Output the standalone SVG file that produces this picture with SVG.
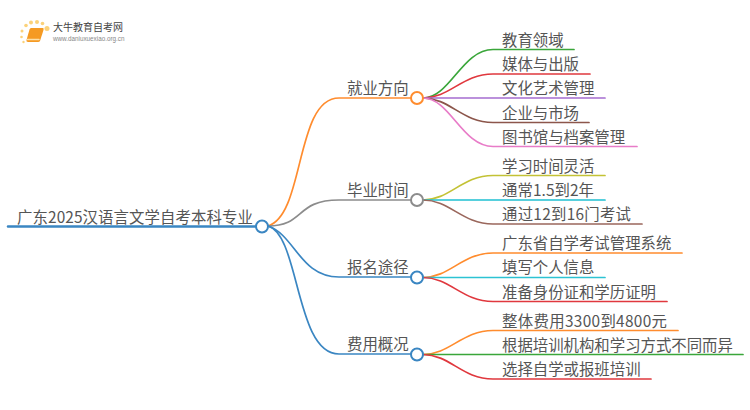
<svg xmlns="http://www.w3.org/2000/svg" width="750" height="410" viewBox="0 0 750 410">
<style>
text{font-family:"Noto Sans CJK SC","Liberation Sans",sans-serif;fill:#555;font-size:15.4px}
path{fill:none;stroke-width:1.7;stroke-linecap:round}
circle.n{fill:#fff;stroke-width:2}
.o{stroke:#ff8c2e}.g{stroke:#8c8c8c}.b{stroke:#3a86c2}
</style>
<rect width="750" height="410" fill="#fff"/>
<g id="logo">
<g fill="#fbd27a"><circle cx="47" cy="28.500" r="2.500"/><circle cx="42.500" cy="23.500" r="1.800"/><circle cx="37" cy="22" r="2"/><circle cx="31" cy="22.500" r="2"/><circle cx="26" cy="25.500" r="1.800"/><circle cx="22" cy="31" r="1.500"/><circle cx="21.500" cy="37" r="1.300"/><circle cx="23.500" cy="42" r="1.200"/></g>
<path d="M31 28H43Q44 28 43.500 30L40 41Q39.500 42 38 42H28Q26 42 26.500 40L29.500 29.500Q30 28 31 28Z" style="fill:#f59a23;stroke:none"/>
<path d="M27.500 39.500H39" stroke="#fde0a8" style="stroke-width:1.500"/>
<text x="53" y="30.500" style="font-size:10px;fill:#444">大牛教育自考网</text>
<text x="53" y="41" style="font-size:6.300px;fill:#888;font-family:'Liberation Sans',sans-serif">www.daniuxuexiao.org.cn</text>
</g>
<g id="connectors">
<path class="b" d="M8 226.500H256" style="stroke-width:2.500"/>
<path class="o" d="M268 226C305 215 295 98 339 98H411"/>
<path class="g" d="M268 226C305 226 295 200 339 200H411"/>
<path class="b" d="M268 226C295 235 300 277 339 277H411"/>
<path class="b" d="M268 226C300 235 295 354 339 354H411"/>
<path stroke="#3aa63a" d="M423 98C450 98 462 49.500 493 49.500H574"/>
<path stroke="#e0383e" d="M423 98C450 98 462 74 493 74H590"/>
<path stroke="#a56cd0" d="M423 98H605"/>
<path stroke="#8c564b" d="M423 98C450 98 462 122.500 493 122.500H589"/>
<path stroke="#e87cc8" d="M423 98C450 98 462 146.500 493 146.500H637"/>
<path stroke="#c3c235" d="M423 200C450 200 462 175.500 493 175.500H605"/>
<path stroke="#1fc0d2" d="M423 200H605"/>
<path stroke="#9a675c" d="M423 200C450 200 462 224 493 224H642"/>
<path class="o" d="M423 277.500C450 277.500 462 253 493 253H682"/>
<path stroke="#2cc3d3" d="M423 277.500H605"/>
<path stroke="#e0383e" d="M423 277.500C450 277.500 462 301.500 493 301.500H667"/>
<path class="o" d="M423 354.500C450 354.500 462 330.500 493 330.500H678"/>
<path stroke="#3aa63a" d="M423 354.500H743"/>
<path stroke="#e0383e" d="M423 354.500C450 354.500 462 379 493 379H651"/>
</g>
<g id="root"><text x="17" y="223" textLength="236">广东2025汉语言文学自考本科专业</text><circle class="n b" cx="262" cy="226.500" r="6"/></g>
<g id="n1"><text x="347" y="94">就业方向</text><circle class="n o" cx="417" cy="98" r="6"/></g>
<g id="n2"><text x="347" y="196">毕业时间</text><circle class="n g" cx="417" cy="200" r="6"/></g>
<g id="n3"><text x="347" y="273">报名途径</text><circle class="n b" cx="417" cy="277.500" r="6"/></g>
<g id="n4"><text x="347" y="350">费用概况</text><circle class="n b" cx="417" cy="354.500" r="6"/></g>
<g id="c1"><text x="502" y="46">教育领域</text></g>
<g id="c2"><text x="502" y="70">媒体与出版</text></g>
<g id="c3"><text x="502" y="94">文化艺术管理</text></g>
<g id="c4"><text x="502" y="119">企业与市场</text></g>
<g id="c5"><text x="502" y="143">图书馆与档案管理</text></g>
<g id="c6"><text x="502" y="172">学习时间灵活</text></g>
<g id="c7"><text x="502" y="196" textLength="92">通常1.5到2年</text></g>
<g id="c8"><text x="502" y="220" textLength="129">通过12到16门考试</text></g>
<g id="c9"><text x="502" y="249">广东省自学考试管理系统</text></g>
<g id="c10"><text x="502" y="273">填写个人信息</text></g>
<g id="c11"><text x="502" y="298">准备身份证和学历证明</text></g>
<g id="c12"><text x="502" y="327" textLength="165">整体费用3300到4800元</text></g>
<g id="c13"><text x="502" y="351">根据培训机构和学习方式不同而异</text></g>
<g id="c14"><text x="502" y="375">选择自学或报班培训</text></g>
</svg>
